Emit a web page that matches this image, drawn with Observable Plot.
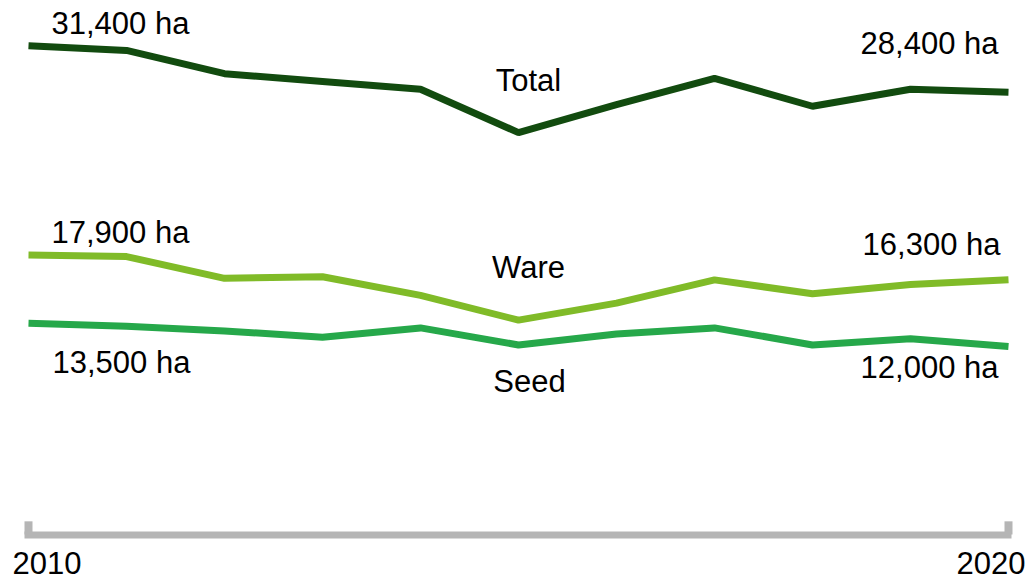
<!DOCTYPE html>
<html><head><meta charset="utf-8">
<script src="https://cdn.jsdelivr.net/npm/d3@7"></script>
<script src="https://cdn.jsdelivr.net/npm/@observablehq/plot@0.6"></script>
<style>html,body{margin:0;padding:0;background:#fff;}</style>
</head><body><div id="chart"></div>
<script>
const years = [2010, 2011, 2012, 2013, 2014, 2015, 2016, 2017, 2018, 2019, 2020];
const total = [31400, 31100, 29600, 29100, 28600, 25800, 27600, 29300, 27500, 28600, 28400];
const ware  = [17900, 17800, 16400, 16500, 15300, 13700, 14800, 16300, 15400, 16000, 16300];
const seed  = [13500, 13300, 13000, 12600, 13200, 12100, 12800, 13200, 12100, 12500, 12000];
const seriesNames = ["Total", "Ware", "Seed"];
const seriesColors = ["#124b0f", "#80bb28", "#26a84a"];
const axisYears = [2010, 2020];

const seriesValues = [total, ware, seed];
const rows = [];
seriesNames.forEach((name, i) => years.forEach((yr, j) => rows.push({series: name, year: yr, value: seriesValues[i][j]})));
const at = (name, yr) => rows.find(d => d.series === name && d.year === yr);
const fmt = v => d3.format(",")(v) + " ha";

const font = "'Liberation Sans', Arial, sans-serif";
const chart = Plot.plot({
  width: 1032,
  height: 580,
  marginLeft: 28,
  marginRight: 24,
  marginTop: 36,
  marginBottom: 48,
  style: {fontFamily: font, fontSize: "31px", color: "#000", background: "#fff", overflow: "visible"},
  x: {domain: [2010, 2020], axis: null},
  y: {domain: [0, 32000], axis: null},
  color: {domain: seriesNames, range: seriesColors},
  marks: [
    Plot.ruleY([0], {x1: 2010, x2: 2020, stroke: "#b5b5b5", strokeWidth: 7, strokeLinecap: "square", dy: 2.5}),
    Plot.ruleX(axisYears, {x: d => d, y1: 0, y2: 850, stroke: "#b5b5b5", strokeWidth: 8, dy: 2.5}),
    Plot.line(rows, {x: "year", y: "value", z: "series", stroke: "series", strokeWidth: 7, strokeLinecap: "butt", strokeLinejoin: "miter"}),
    // start labels
    Plot.text([at("Total", 2010), at("Ware", 2010)], {x: "year", y: "value", text: d => fmt(d.value), textAnchor: "start", lineAnchor: "bottom", dx: 23, dy: -12, fill: "#000"}),
    Plot.text([at("Seed", 2010)], {x: "year", y: "value", text: d => fmt(d.value), textAnchor: "start", lineAnchor: "bottom", dx: 24, dy: 50, fill: "#000"}),
    // end labels
    Plot.text([at("Total", 2020)], {x: "year", y: "value", text: d => fmt(d.value), textAnchor: "end", lineAnchor: "bottom", dx: -10, dy: -38, fill: "#000"}),
    Plot.text([at("Ware", 2020)], {x: "year", y: "value", text: d => fmt(d.value), textAnchor: "end", lineAnchor: "bottom", dx: -8, dy: -25, fill: "#000"}),
    Plot.text([at("Seed", 2020)], {x: "year", y: "value", text: d => fmt(d.value), textAnchor: "end", lineAnchor: "bottom", dx: -10, dy: 31, fill: "#000"}),
    // series names
    Plot.text([at("Total", 2015), at("Ware", 2015)], {x: "year", y: "value", text: "series", textAnchor: "middle", lineAnchor: "bottom", dx: 10, dy: -42, fill: "#000"}),
    Plot.text([at("Seed", 2015)], {x: "year", y: "value", text: "series", textAnchor: "middle", lineAnchor: "bottom", dx: 11, dy: 47, fill: "#000"}),
    // year labels
    Plot.text([axisYears[0]], {x: d => d, y: 0, text: d => String(d), textAnchor: "start", lineAnchor: "bottom", dx: -16, dy: 41, fill: "#000"}),
    Plot.text([axisYears[1]], {x: d => d, y: 0, text: d => String(d), textAnchor: "end", lineAnchor: "bottom", dx: 17, dy: 41, fill: "#000"})
  ]
});
document.getElementById("chart").appendChild(chart);
</script>
</body></html>
